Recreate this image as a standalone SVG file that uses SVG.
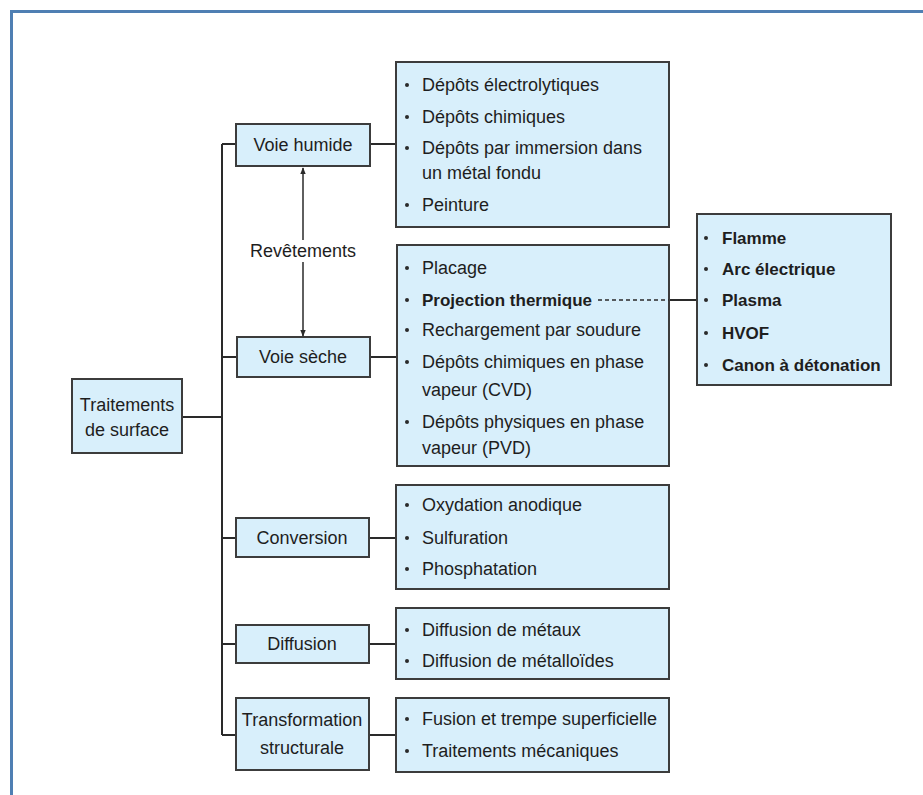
<svg xmlns="http://www.w3.org/2000/svg" width="923" height="795" viewBox="0 0 923 795">
<defs>
<style>
.box{fill:#d8effb;stroke:#3c3c3c;stroke-width:2}
.t{font-family:"Liberation Sans",Arial,sans-serif;font-size:18px;fill:#1e1e1e}
.b{font-family:"Liberation Sans",Arial,sans-serif;font-size:17px;font-weight:bold;fill:#1e1e1e}
.c{text-anchor:middle}
.ln{stroke:#2a2a2a;stroke-width:2;fill:none}
.dash{stroke:#2a2a2a;stroke-width:1.5;fill:none;stroke-dasharray:4,3}
.dot{fill:#2a2a2a}
</style>
<marker id="ah" viewBox="0 0 10 10" refX="9" refY="5" markerWidth="7" markerHeight="9" orient="auto-start-reverse" markerUnits="userSpaceOnUse">
<path d="M0,1 L10,5 L0,9 z" fill="#2a2a2a"/>
</marker>
</defs>
<rect width="923" height="795" fill="#ffffff"/>
<g id="frame">
<line x1="11" y1="11.5" x2="923" y2="11.5" stroke="#4f7fb3" stroke-width="3"/>
<line x1="11.5" y1="10" x2="11.5" y2="795" stroke="#4f7fb3" stroke-width="3"/>
</g>
<g id="traitements">
<rect class="box" x="72" y="379" width="110" height="74"/>
<text class="t c" x="127" y="411">Traitements</text>
<text class="t c" x="127" y="436">de surface</text>
</g>
<g id="voie-humide">
<rect class="box" x="236" y="124" width="134" height="42"/>
<text class="t c" x="303" y="151">Voie humide</text>
</g>
<g id="voie-seche">
<rect class="box" x="237" y="337" width="133" height="40"/>
<text class="t c" x="303" y="363">Voie sèche</text>
</g>
<g id="conversion">
<rect class="box" x="236" y="518" width="133" height="39"/>
<text class="t c" x="302" y="544">Conversion</text>
</g>
<g id="diffusion">
<rect class="box" x="236" y="625" width="133" height="38"/>
<text class="t c" x="302" y="650">Diffusion</text>
</g>
<g id="transformation">
<rect class="box" x="236" y="698" width="133" height="72"/>
<text class="t c" x="302" y="726">Transformation</text>
<text class="t c" x="302" y="754">structurale</text>
</g>
<g id="liste-humide">
<rect class="box" x="396" y="62" width="273" height="165"/>
<circle class="dot" cx="407" cy="85" r="2"/>
<circle class="dot" cx="407" cy="117" r="2"/>
<circle class="dot" cx="407" cy="148" r="2"/>
<circle class="dot" cx="407" cy="205" r="2"/>
<text class="t" x="422" y="91">Dépôts électrolytiques</text>
<text class="t" x="422" y="123">Dépôts chimiques</text>
<text class="t" x="422" y="154">Dépôts par immersion dans</text>
<text class="t" x="422" y="179">un métal fondu</text>
<text class="t" x="422" y="211">Peinture</text>
</g>
<g id="liste-seche">
<rect class="box" x="397" y="245" width="272" height="221"/>
<circle class="dot" cx="407" cy="268" r="2"/>
<circle class="dot" cx="407" cy="300" r="2"/>
<circle class="dot" cx="407" cy="330" r="2"/>
<circle class="dot" cx="407" cy="362" r="2"/>
<circle class="dot" cx="407" cy="422" r="2"/>
<text class="t" x="422" y="274">Placage</text>
<text class="b" x="422" y="306">Projection thermique</text>
<text class="t" x="422" y="336">Rechargement par soudure</text>
<text class="t" x="422" y="368">Dépôts chimiques en phase</text>
<text class="t" x="422" y="396">vapeur (CVD)</text>
<text class="t" x="422" y="428">Dépôts physiques en phase</text>
<text class="t" x="422" y="454">vapeur (PVD)</text>
</g>
<g id="liste-projection">
<rect class="box" x="697" y="214" width="194" height="171"/>
<circle class="dot" cx="706" cy="238" r="2"/>
<circle class="dot" cx="706" cy="269" r="2"/>
<circle class="dot" cx="706" cy="300" r="2"/>
<circle class="dot" cx="706" cy="333" r="2"/>
<circle class="dot" cx="706" cy="365" r="2"/>
<text class="b" x="722" y="244">Flamme</text>
<text class="b" x="722" y="275">Arc électrique</text>
<text class="b" x="722" y="306">Plasma</text>
<text class="b" x="722" y="339">HVOF</text>
<text class="b" x="722" y="371">Canon à détonation</text>
</g>
<g id="liste-conversion">
<rect class="box" x="396" y="485" width="273" height="104"/>
<circle class="dot" cx="407" cy="505" r="2"/>
<circle class="dot" cx="407" cy="538" r="2"/>
<circle class="dot" cx="407" cy="569" r="2"/>
<text class="t" x="422" y="511">Oxydation anodique</text>
<text class="t" x="422" y="544">Sulfuration</text>
<text class="t" x="422" y="575">Phosphatation</text>
</g>
<g id="liste-diffusion">
<rect class="box" x="396" y="608" width="273" height="71"/>
<circle class="dot" cx="407" cy="630" r="2"/>
<circle class="dot" cx="407" cy="661" r="2"/>
<text class="t" x="422" y="636">Diffusion de métaux</text>
<text class="t" x="422" y="667">Diffusion de métalloïdes</text>
</g>
<g id="liste-transformation">
<rect class="box" x="396" y="698" width="273" height="74"/>
<circle class="dot" cx="407" cy="719" r="2"/>
<circle class="dot" cx="407" cy="751" r="2"/>
<text class="t" x="422" y="725">Fusion et trempe superficielle</text>
<text class="t" x="422" y="757">Traitements mécaniques</text>
</g>
<g id="connectors">
<path class="ln" d="M222,144 V735"/>
<path class="ln" d="M222,144 H235 M222,357 H236 M183,417 H222 M222,538 H235 M222,644 H235 M222,735 H235"/>
<path class="ln" d="M371,144 H395 M371,357 H396 M370,538 H395 M370,644 H395 M370,735 H395"/>
<path class="ln" d="M670,300 H696"/>
<path class="dash" d="M598,300 H669"/>
<line x1="303" y1="168" x2="303" y2="336" stroke="#2a2a2a" stroke-width="1.5" marker-start="url(#ah)" marker-end="url(#ah)"/>
<rect x="250" y="240" width="106" height="22" fill="#ffffff"/>
<text class="t c" x="303" y="257">Revêtements</text>
</g>
</svg>
